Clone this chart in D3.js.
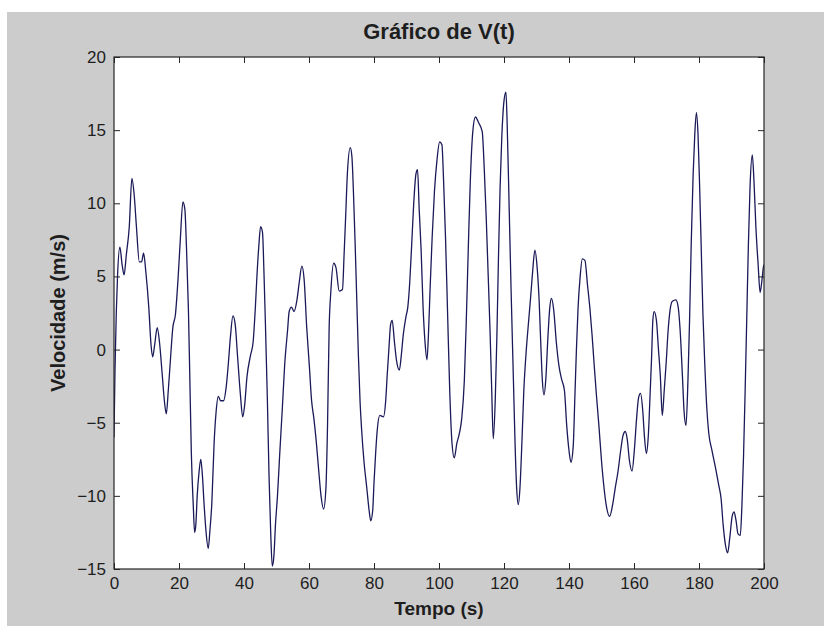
<!DOCTYPE html>
<html>
<head>
<meta charset="utf-8">
<script src="https://cdnjs.cloudflare.com/ajax/libs/d3/7.8.5/d3.min.js"></script>
<style>
	body{ margin:0; background:#ffffff; }
	svg text{ font-family: Arial, "Liberation Sans", Helvetica, sans-serif; fill:#1e1e1e; }
</style>
</head>
<body>
<svg id="chart" width="824" height="626"></svg>
<script>
// time (s)
var tempo = [0, 0.3, 0.7, 1.1, 1.8, 2.5, 3.1, 3.8, 4.7, 5.5, 6.2, 6.9, 7.8, 8.5, 9.1, 9.8,
	10.7, 11.4, 11.9, 12.5, 13.3, 14.0, 14.8, 15.5, 16.1, 16.7, 17.3, 18.1, 18.9, 19.7,
	20.4, 21.2, 21.8, 22.3, 22.9, 23.3, 23.8, 24.4, 24.8, 25.2, 25.6, 26.2, 26.7, 27.2, 27.7, 28.3, 29.0, 29.5,
	30.1, 30.8, 31.4, 32.1, 32.8, 33.7, 34.5, 35.2, 35.8, 36.6, 37.3, 38.0, 38.9, 39.6,
	40.2, 40.9, 42.0, 42.8, 43.5, 44.0, 44.6, 45.1, 45.7, 46.1, 46.6, 47.2, 47.7, 48.2, 48.7, 49.2, 49.7,
	50.3, 51.0, 51.8, 52.5, 53.4, 53.9, 54.6, 55.4, 56.3, 57.0, 57.8, 58.5, 59.3,
	60.1, 60.8, 61.5, 62.2, 63.0, 63.7, 64.5, 65.2, 65.7, 66.2, 66.7, 67.6, 68.3, 69.3,
	70.3, 70.8, 71.3, 71.8, 72.7, 73.2, 73.7, 74.2, 74.7, 75.2, 75.7, 76.2, 76.9, 77.8, 78.5, 79.0, 79.6,
	80.0, 80.5, 81.0, 81.8, 82.9, 83.6, 84.1, 84.6, 85.1, 85.6, 86.3, 86.9, 87.8, 88.4, 89.0, 89.8,
	90.4, 91.0, 91.6, 92.2, 92.9, 93.4, 93.9, 94.5, 95.1, 95.7, 96.3, 96.8, 97.3, 97.9, 98.6, 99.4,
	100.2, 100.9, 101.4, 102.0, 102.7, 103.3, 104.0, 104.7, 105.5, 106.3, 107.0, 107.8, 108.4, 109.0, 109.6,
	110.4, 111.2, 112.2, 113.3, 113.9, 114.5, 115.1, 115.7, 116.2, 116.7, 117.3, 117.8, 118.3, 118.8, 119.3,
	120.0, 120.6, 121.0, 121.6, 122.2, 122.9, 123.4, 123.9, 124.4, 124.9, 125.5, 126.1, 126.9, 127.6, 128.2, 128.8, 129.5,
	130.2, 130.8, 131.3, 131.8, 132.3, 132.9, 133.5, 134.1, 134.6, 135.3, 136.1, 136.9, 137.7, 138.6, 139.3,
	140.0, 140.6, 141.3, 141.8, 142.3, 142.8, 143.4, 144.1, 144.9, 145.7, 146.4, 147.1, 147.7, 148.4, 149.2,
	150.0, 150.8, 151.5, 152.5, 153.5, 154.2, 155.1, 155.9, 156.6, 157.3, 157.9, 158.6, 159.4,
	160.1, 160.8, 161.4, 162.0, 162.7, 163.2, 163.8, 164.4, 165.0, 165.4, 165.8, 166.2, 166.9, 167.5, 168.1, 168.7, 169.3, 169.9,
	170.5, 171.1, 171.8, 172.9, 173.6, 174.2, 174.9, 175.4, 176.0, 176.6, 177.1, 177.6, 178.2, 178.7, 179.2, 179.7,
	180.2, 180.7, 181.2, 181.8, 182.4, 183.0, 184.0, 185.1, 186.1, 186.8, 187.4, 188.1, 188.8, 189.5,
	190.2, 190.8, 191.4, 192.0, 192.7, 193.2, 193.7, 194.2, 194.7, 195.2, 195.7, 196.4, 196.9, 197.5, 198.2, 198.8, 199.3, 199.8, 200];

// velocity (m/s)
var velocidade = [-6.0, -1.5, 2.5, 5.1, 7.0, 5.8, 5.1, 6.5, 8.4, 11.7, 10.6, 8.4, 6.0, 6.0, 6.6, 5.3,
	2.9, 0.3, -0.5, 0.3, 1.5, 0.5, -1.6, -3.5, -4.4, -2.8, -0.9, 1.5, 2.4, 4.8,
	7.5, 10.1, 9.6, 7.0, 2.7, -1.6, -7.1, -10.7, -12.5, -11.9, -10.0, -8.3, -7.5, -8.6, -10.5, -12.4, -13.6, -12.4,
	-10.5, -6.4, -4.3, -3.2, -3.5, -3.5, -2.6, -0.9, 0.8, 2.3, 1.7, -0.4, -3.1, -4.6,
	-3.8, -1.9, -0.4, 0.5, 2.9, 5.1, 7.2, 8.4, 8.0, 5.6, 1.7, -3.5, -8.6, -12.4, -14.8, -14.1, -11.9,
	-10.0, -7.1, -4.0, -1.1, 1.3, 2.6, 2.9, 2.6, 3.4, 4.6, 5.7, 4.8, 1.5,
	-1.1, -3.5, -4.7, -6.2, -8.3, -10.0, -10.9, -9.5, -5.2, 1.5, 3.9, 5.9, 5.6, 4.0,
	4.1, 6.5, 9.2, 12.0, 13.8, 13.2, 10.6, 7.2, 3.4, -0.4, -3.5, -5.5, -7.6, -9.5, -11.0, -11.7, -11.0,
	-9.1, -7.1, -5.5, -4.5, -4.6, -3.5, -1.6, 0.1, 1.7, 2.0, 0.5, -0.7, -1.4, -0.4, 1.0, 2.2,
	2.9, 4.6, 7.2, 9.9, 12.0, 12.3, 9.6, 6.8, 2.9, 0.5, -0.7, 1.3, 4.4, 7.7, 10.8, 13.0,
	14.2, 14.0, 11.6, 7.7, 2.0, -2.8, -6.4, -7.4, -6.4, -5.7, -4.7, -2.1, 2.0, 6.8, 11.3,
	14.9, 15.9, 15.5, 14.9, 12.5, 9.2, 5.3, 1.3, -2.6, -6.1, -3.5, 0.8, 6.3, 11.1, 14.4,
	17.0, 17.6, 15.2, 9.6, 3.9, -2.1, -6.4, -9.5, -10.6, -9.5, -6.4, -2.8, 0.1, 2.0, 3.6, 5.3, 6.8,
	5.6, 3.4, 0.5, -2.1, -3.1, -1.9, 0.8, 2.9, 3.5, 2.7, 0.5, -1.1, -2.0, -2.8, -5.2,
	-6.9, -7.7, -6.6, -3.3, 0.1, 2.9, 4.9, 6.2, 6.1, 4.4, 2.9, 1.0, -0.9, -3.0, -5.2,
	-7.6, -9.5, -10.7, -11.4, -10.5, -9.5, -8.3, -6.9, -5.9, -5.6, -6.1, -7.6, -8.3,
	-6.9, -4.7, -3.3, -3.0, -4.2, -5.9, -7.1, -5.9, -2.8, -0.6, 2.0, 2.6, 2.0, 0.1, -1.8, -4.5, -2.8, -0.9,
	1.3, 2.7, 3.3, 3.4, 2.9, 1.3, -1.8, -4.2, -5.2, -2.1, 2.0, 7.2, 12.0, 14.7, 16.2, 14.7,
	11.1, 6.8, 2.5, -1.1, -4.0, -5.7, -6.9, -8.1, -9.3, -10.2, -11.9, -13.3, -13.9, -12.8,
	-11.4, -11.1, -11.7, -12.6, -12.7, -10.7, -7.3, -2.8, 2.2, 7.2, 11.1, 13.3, 11.6, 8.4, 5.8, 3.9, 4.6, 5.6, 5.8];

var xTicks = [0, 20, 40, 60, 80, 100, 120, 140, 160, 180, 200];
var yTicks = [-15, -10, -5, 0, 5, 10, 15, 20];

var titulo = 'Gráfico de V(t)';
var rotuloX = 'Tempo (s)';
var rotuloY = 'Velocidade (m/s)';

var plotLeft = 114;
var plotRight = 764;
var plotTop = 57;
var plotBottom = 569;
var tickLen = 6;
var axisColor = '#262626';

var svg = d3.select('#chart');

//gray figure background
svg.append('rect')
	.attr('x', 7)
	.attr('y', 12)
	.attr('width', 824 - 7)
	.attr('height', 626 - 12)
	.attr('fill', '#cccccc');

//white axes area
svg.append('rect')
	.attr('x', plotLeft)
	.attr('y', plotTop)
	.attr('width', plotRight - plotLeft)
	.attr('height', plotBottom - plotTop)
	.attr('fill', '#ffffff');

var x = d3.scaleLinear().domain([0, 200]).range([plotLeft, plotRight]);
var y = d3.scaleLinear().domain([-15, 20]).range([plotBottom, plotTop]);

var pontos = tempo.map(function(t, i){ return [t, velocidade[i]]; });

//the curve, clipped to the box
svg.append('clipPath')
	.attr('id', 'clip')
	.append('rect')
	.attr('x', plotLeft)
	.attr('y', plotTop - 1)
	.attr('width', plotRight - plotLeft)
	.attr('height', plotBottom - plotTop + 2);

var linha = d3.line()
	.x(function(d){ return x(d[0]); })
	.y(function(d){ return y(d[1]); })
	.curve(d3.curveMonotoneX);

svg.append('path')
	.datum(pontos)
	.attr('clip-path', 'url(#clip)')
	.attr('d', linha)
	.attr('fill', 'none')
	.attr('stroke', '#1a1a58')
	.attr('stroke-width', 1.3)
	.attr('stroke-linejoin', 'round');

//axes, ticks inside on all four sides
var axisStyle = function(g){
	g.select('.domain').remove();
	g.selectAll('.tick line').attr('stroke', axisColor).attr('stroke-width', 1);
	g.selectAll('.tick text')
		.attr('font-size', 17)
		.attr('fill', '#1e1e1e')
		.style('font-family', 'Arial, "Liberation Sans", sans-serif');
};

svg.append('g')
	.attr('transform', 'translate(0,' + plotBottom + ')')
	.call(d3.axisBottom(x).tickValues(xTicks).tickSizeInner(-tickLen).tickSizeOuter(0).tickPadding(8))
	.call(axisStyle);

svg.append('g')
	.attr('transform', 'translate(0,' + plotTop + ')')
	.call(d3.axisTop(x).tickValues(xTicks).tickSizeInner(-tickLen).tickSizeOuter(0).tickFormat(''))
	.call(axisStyle);

svg.append('g')
	.attr('transform', 'translate(' + plotLeft + ',0)')
	.call(d3.axisLeft(y).tickValues(yTicks).tickSizeInner(-tickLen).tickSizeOuter(0).tickPadding(8))
	.call(axisStyle);

svg.append('g')
	.attr('transform', 'translate(' + plotRight + ',0)')
	.call(d3.axisRight(y).tickValues(yTicks).tickSizeInner(-tickLen).tickSizeOuter(0).tickFormat(''))
	.call(axisStyle);

//box
svg.append('rect')
	.attr('x', plotLeft)
	.attr('y', plotTop)
	.attr('width', plotRight - plotLeft)
	.attr('height', plotBottom - plotTop)
	.attr('fill', 'none')
	.attr('stroke', axisColor)
	.attr('stroke-width', 1.2);

//title and labels
svg.append('text')
	.text(titulo)
	.attr('x', (plotLeft + plotRight) / 2)
	.attr('y', 39)
	.attr('text-anchor', 'middle')
	.attr('font-weight', 'bold')
	.attr('font-size', 22);

svg.append('text')
	.text(rotuloX)
	.attr('x', (plotLeft + plotRight) / 2)
	.attr('y', 615)
	.attr('text-anchor', 'middle')
	.attr('font-weight', 'bold')
	.attr('font-size', 19);

svg.append('text')
	.text(rotuloY)
	.attr('transform', 'translate(58,' + (plotTop + plotBottom) / 2 + ') rotate(-90)')
	.attr('text-anchor', 'middle')
	.attr('dominant-baseline', 'central')
	.attr('font-weight', 'bold')
	.attr('font-size', 20);
</script>
</body>
</html>
